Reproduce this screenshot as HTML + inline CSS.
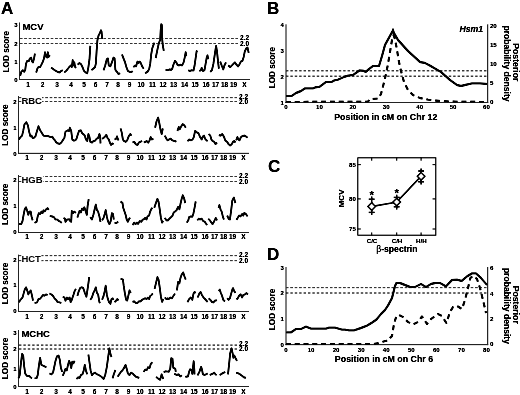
<!DOCTYPE html>
<html><head><meta charset="utf-8"><title>Figure</title>
<style>
html,body{margin:0;padding:0;background:#fff;}
body{width:520px;height:395px;overflow:hidden;}
svg{display:block;font-family:"Liberation Sans",sans-serif;fill:#000;}
</style></head><body>
<svg width="520" height="395" viewBox="0 0 520 395">
<defs><filter id="soft" x="0" y="0" width="520" height="395" filterUnits="userSpaceOnUse"><feGaussianBlur stdDeviation="0.45"/><feComponentTransfer><feFuncA type="linear" slope="1.5" intercept="0"/></feComponentTransfer></filter></defs>
<rect x="0" y="0" width="520" height="395" fill="#fff"/>
<g filter="url(#soft)">
<line x1="19.50" y1="22.50" x2="19.50" y2="80.00" stroke="#222" stroke-width="0.8"/>
<line x1="19.00" y1="79.50" x2="250.00" y2="79.50" stroke="#222" stroke-width="0.85"/>
<text x="17.50" y="81.75" font-size="6.0" font-weight="bold" text-anchor="end">0</text>
<text x="17.50" y="63.75" font-size="6.0" font-weight="bold" text-anchor="end">1</text>
<text x="17.50" y="45.65" font-size="6.0" font-weight="bold" text-anchor="end">2</text>
<text x="17.50" y="27.45" font-size="6.0" font-weight="bold" text-anchor="end">3</text>
<line x1="20.00" y1="38.50" x2="239.70" y2="38.50" stroke="#333" stroke-width="1.0" stroke-dasharray="2.4 2.0"/>
<line x1="20.00" y1="43.50" x2="239.70" y2="43.50" stroke="#333" stroke-width="1.0" stroke-dasharray="2.4 2.0"/>
<text x="244.50" y="39.60" font-size="6.5" font-weight="bold" text-anchor="middle">2.2</text>
<text x="244.50" y="45.70" font-size="6.5" font-weight="bold" text-anchor="middle">2.0</text>
<text transform="translate(22.40 30.30) scale(0.97 1)" font-size="9.8" font-weight="bold">MCV</text>
<text x="8.90" y="51.70" font-size="8.2" font-weight="bold" text-anchor="middle" transform="rotate(-90 8.90 51.70)">LOD score</text>
<text x="28.00" y="87.20" font-size="6.5" font-weight="bold" text-anchor="middle">1</text>
<text x="42.50" y="87.20" font-size="6.5" font-weight="bold" text-anchor="middle">2</text>
<text x="57.00" y="87.20" font-size="6.5" font-weight="bold" text-anchor="middle">3</text>
<text x="71.00" y="87.20" font-size="6.5" font-weight="bold" text-anchor="middle">4</text>
<text x="84.00" y="87.20" font-size="6.5" font-weight="bold" text-anchor="middle">5</text>
<text x="95.50" y="87.20" font-size="6.5" font-weight="bold" text-anchor="middle">6</text>
<text x="107.00" y="87.20" font-size="6.5" font-weight="bold" text-anchor="middle">7</text>
<text x="118.00" y="87.20" font-size="6.5" font-weight="bold" text-anchor="middle">8</text>
<text x="129.50" y="87.20" font-size="6.5" font-weight="bold" text-anchor="middle">9</text>
<text x="141.00" y="87.20" font-size="6.5" font-weight="bold" text-anchor="middle">10</text>
<text x="152.50" y="87.20" font-size="6.5" font-weight="bold" text-anchor="middle">11</text>
<text x="163.00" y="87.20" font-size="6.5" font-weight="bold" text-anchor="middle">12</text>
<text x="173.50" y="87.20" font-size="6.5" font-weight="bold" text-anchor="middle">13</text>
<text x="184.50" y="87.20" font-size="6.5" font-weight="bold" text-anchor="middle">14</text>
<text x="195.00" y="87.20" font-size="6.5" font-weight="bold" text-anchor="middle">15</text>
<text x="206.00" y="87.20" font-size="6.5" font-weight="bold" text-anchor="middle">16</text>
<text x="215.50" y="87.20" font-size="6.5" font-weight="bold" text-anchor="middle">17</text>
<text x="224.50" y="87.20" font-size="6.5" font-weight="bold" text-anchor="middle">18</text>
<text x="233.50" y="87.20" font-size="6.5" font-weight="bold" text-anchor="middle">19</text>
<text x="244.50" y="87.20" font-size="6.5" font-weight="bold" text-anchor="middle">X</text>
<polyline points="20.2,75.7 21.3,71.8 22.8,70.2 24.1,71.8 25.2,70.2 26.0,63.9 27.2,60.8 28.8,61.1 29.9,58.4 31.2,57.6 31.9,61.1 33.0,62.4 34.1,58.4 34.9,53.7" fill="none" stroke="#000" stroke-width="1.65" stroke-linejoin="round" stroke-linecap="butt"/>
<polyline points="36.2,72.5 37.4,68.6 38.5,67.1 40.1,67.1 41.4,64.7 42.9,61.6 44.0,58.4 45.1,52.2 46.1,56.9 47.2,57.6 47.9,52.2 48.7,56.9 49.8,55.3" fill="none" stroke="#000" stroke-width="1.65" stroke-linejoin="round" stroke-linecap="butt"/>
<polyline points="51.1,67.8 52.6,68.6 54.2,69.9 56.1,71.0 58.1,72.1 59.7,72.5 61.0,71.0 62.8,70.2" fill="none" stroke="#000" stroke-width="1.65" stroke-linejoin="round" stroke-linecap="butt"/>
<polyline points="64.4,72.5 66.0,71.0 67.5,69.4 69.1,67.1 70.7,65.5 71.8,67.1 72.7,60.0 73.4,65.5 74.3,62.4 75.1,67.1 76.2,67.8" fill="none" stroke="#000" stroke-width="1.65" stroke-linejoin="round" stroke-linecap="butt"/>
<polyline points="77.7,64.7 79.3,63.1 80.9,63.9 82.5,67.1 84.0,71.0 85.6,72.5 87.2,73.3 88.4,67.1 89.5,59.2 90.3,45.9" fill="none" stroke="#000" stroke-width="1.65" stroke-linejoin="round" stroke-linecap="butt"/>
<polyline points="91.5,70.2 93.4,68.6 95.0,67.1 95.8,63.9 96.6,51.4 97.4,40.4 98.5,35.7 99.7,33.3 101.0,30.2 101.6,31.8 102.1,38.8" fill="none" stroke="#000" stroke-width="1.65" stroke-linejoin="round" stroke-linecap="butt"/>
<polyline points="103.6,70.2 105.2,65.5 106.8,59.2 107.9,58.4 108.8,65.5 110.4,66.3 111.9,62.4 113.5,57.6 114.6,58.4 115.4,70.2" fill="none" stroke="#000" stroke-width="1.65" stroke-linejoin="round" stroke-linecap="butt"/>
<polyline points="115.4,70.2 117.0,71.8 118.5,74.1 120.1,73.3" fill="none" stroke="#000" stroke-width="1.65" stroke-linejoin="round" stroke-linecap="butt"/>
<polyline points="122.0,54.5 123.2,57.6 124.8,61.6 126.4,67.1 127.9,71.0 129.5,71.8 131.9,71.8 132.6,71.0" fill="none" stroke="#000" stroke-width="1.65" stroke-linejoin="round" stroke-linecap="butt"/>
<polyline points="133.4,67.1 135.0,65.5 136.1,66.3 137.4,61.6 138.6,63.1 139.7,61.6 140.8,63.1 142.1,66.3 143.6,68.6" fill="none" stroke="#000" stroke-width="1.65" stroke-linejoin="round" stroke-linecap="butt"/>
<polyline points="145.2,73.3 147.5,71.8 149.1,69.4 150.2,63.9 151.2,54.5 152.3,48.2 153.4,45.1 154.3,42.7" fill="none" stroke="#000" stroke-width="1.65" stroke-linejoin="round" stroke-linecap="butt"/>
<polyline points="155.7,58.0 157.2,50.6 158.7,43.8 160.2,39.4 160.7,30.1 161.3,24.2 161.8,24.8 162.1,38.2 162.8,45.3 163.8,50.9" fill="none" stroke="#000" stroke-width="1.65" stroke-linejoin="round" stroke-linecap="butt"/>
<polyline points="165.6,69.9 167.9,70.2 169.5,69.4 171.1,69.9 172.3,68.6 173.4,64.7 174.7,61.6 175.0,60.8 176.3,62.4" fill="none" stroke="#000" stroke-width="1.65" stroke-linejoin="round" stroke-linecap="butt"/>
<polyline points="176.3,62.4 177.4,64.7 178.9,65.5 180.5,64.7 182.1,65.5 183.6,62.4 184.7,57.6 185.7,52.2 186.3,56.1" fill="none" stroke="#000" stroke-width="1.65" stroke-linejoin="round" stroke-linecap="butt"/>
<polyline points="188.3,70.2 189.9,71.0 191.5,70.2 193.5,70.5 194.6,65.5 195.7,57.6 196.6,51.4 197.3,50.6" fill="none" stroke="#000" stroke-width="1.65" stroke-linejoin="round" stroke-linecap="butt"/>
<polyline points="199.3,71.0 200.9,70.2 201.7,67.8 202.9,71.0 204.5,70.2 205.6,63.9 206.7,57.6 207.5,55.3 208.3,59.2" fill="none" stroke="#000" stroke-width="1.65" stroke-linejoin="round" stroke-linecap="butt"/>
<polyline points="210.3,71.8 211.9,70.2 213.4,63.9 215.0,52.9 216.1,45.9 217.0,51.4 218.1,62.4 218.9,68.6" fill="none" stroke="#000" stroke-width="1.65" stroke-linejoin="round" stroke-linecap="butt"/>
<polyline points="220.2,61.6 221.7,65.5 223.3,69.4 224.4,65.5 226.0,62.4" fill="none" stroke="#000" stroke-width="1.65" stroke-linejoin="round" stroke-linecap="butt"/>
<polyline points="228.3,65.5 230.2,67.1 231.8,65.5 233.4,63.9 234.9,62.4 236.5,64.7 238.1,66.3 239.3,64.7" fill="none" stroke="#000" stroke-width="1.65" stroke-linejoin="round" stroke-linecap="butt"/>
<polyline points="239.3,64.7 240.9,61.6 242.5,60.8 243.7,56.9 244.8,51.4 246.4,48.2 247.5,47.5 248.7,52.9" fill="none" stroke="#000" stroke-width="1.65" stroke-linejoin="round" stroke-linecap="butt"/>
<line x1="18.50" y1="96.00" x2="18.50" y2="153.90" stroke="#222" stroke-width="0.8"/>
<line x1="18.00" y1="153.40" x2="249.00" y2="153.40" stroke="#222" stroke-width="0.85"/>
<text x="16.50" y="155.65" font-size="6.0" font-weight="bold" text-anchor="end">0</text>
<text x="16.50" y="129.55" font-size="6.0" font-weight="bold" text-anchor="end">1</text>
<text x="16.50" y="103.65" font-size="6.0" font-weight="bold" text-anchor="end">2</text>
<line x1="19.00" y1="97.60" x2="238.70" y2="97.60" stroke="#333" stroke-width="1.0" stroke-dasharray="2.4 2.0"/>
<line x1="19.00" y1="101.50" x2="238.70" y2="101.50" stroke="#333" stroke-width="1.0" stroke-dasharray="2.4 2.0"/>
<text x="243.50" y="99.00" font-size="6.5" font-weight="bold" text-anchor="middle">2.2</text>
<text x="243.50" y="103.90" font-size="6.5" font-weight="bold" text-anchor="middle">2.0</text>
<rect x="21.5" y="96.6" width="20.5" height="5.9" fill="#fff"/>
<text transform="translate(21.40 103.50) scale(0.97 1)" font-size="9.8" font-weight="bold">RBC</text>
<text x="7.90" y="125.10" font-size="8.2" font-weight="bold" text-anchor="middle" transform="rotate(-90 7.90 125.10)">LOD score</text>
<text x="27.00" y="160.20" font-size="6.5" font-weight="bold" text-anchor="middle">1</text>
<text x="41.50" y="160.20" font-size="6.5" font-weight="bold" text-anchor="middle">2</text>
<text x="56.00" y="160.20" font-size="6.5" font-weight="bold" text-anchor="middle">3</text>
<text x="70.00" y="160.20" font-size="6.5" font-weight="bold" text-anchor="middle">4</text>
<text x="83.00" y="160.20" font-size="6.5" font-weight="bold" text-anchor="middle">5</text>
<text x="94.50" y="160.20" font-size="6.5" font-weight="bold" text-anchor="middle">6</text>
<text x="106.00" y="160.20" font-size="6.5" font-weight="bold" text-anchor="middle">7</text>
<text x="117.00" y="160.20" font-size="6.5" font-weight="bold" text-anchor="middle">8</text>
<text x="128.50" y="160.20" font-size="6.5" font-weight="bold" text-anchor="middle">9</text>
<text x="140.00" y="160.20" font-size="6.5" font-weight="bold" text-anchor="middle">10</text>
<text x="151.50" y="160.20" font-size="6.5" font-weight="bold" text-anchor="middle">11</text>
<text x="162.00" y="160.20" font-size="6.5" font-weight="bold" text-anchor="middle">12</text>
<text x="172.50" y="160.20" font-size="6.5" font-weight="bold" text-anchor="middle">13</text>
<text x="183.50" y="160.20" font-size="6.5" font-weight="bold" text-anchor="middle">14</text>
<text x="194.00" y="160.20" font-size="6.5" font-weight="bold" text-anchor="middle">15</text>
<text x="205.00" y="160.20" font-size="6.5" font-weight="bold" text-anchor="middle">16</text>
<text x="214.50" y="160.20" font-size="6.5" font-weight="bold" text-anchor="middle">17</text>
<text x="223.50" y="160.20" font-size="6.5" font-weight="bold" text-anchor="middle">18</text>
<text x="232.50" y="160.20" font-size="6.5" font-weight="bold" text-anchor="middle">19</text>
<text x="243.50" y="160.20" font-size="6.5" font-weight="bold" text-anchor="middle">X</text>
<polyline points="18.9,139.5 20.5,137.1 22.1,135.6 23.2,130.9 24.4,124.6 26.3,122.2 27.9,125.4 29.1,131.6 30.4,136.4 31.5,135.6 32.6,137.9 33.8,137.9 35.4,136.4 37.0,130.9 38.5,126.2 40.1,130.1 42.0,133.2 43.5,135.6 45.6,136.0 47.9,136.0 50.3,137.1 52.3,136.7 53.4,138.7 55.0,140.3 56.1,142.3 57.7,143.4 59.7,143.9 61.3,142.6 62.8,140.3 64.4,137.9 65.5,131.6 67.5,130.4 69.1,130.9 69.9,127.7 71.2,130.9 72.3,139.5 73.8,140.7 75.4,140.3 76.5,138.7 77.7,134.8 79.0,130.9 80.9,130.4 82.1,133.2 83.7,134.5 84.8,135.6 85.9,139.5 87.2,141.1 88.4,134.0 89.5,137.1 90.3,141.8 91.9,142.6 93.4,141.1 95.0,140.7 96.6,138.7 98.1,137.9 99.4,134.0 100.2,136.4 100.5,143.4" fill="none" stroke="#000" stroke-width="1.65" stroke-linejoin="round" stroke-linecap="butt"/>
<polyline points="102.1,138.7 103.6,137.9 105.2,136.4 106.3,134.8 107.5,137.9 108.8,139.5 109.9,142.6 111.0,145.0 112.3,143.4 113.5,144.2" fill="none" stroke="#000" stroke-width="1.65" stroke-linejoin="round" stroke-linecap="butt"/>
<polyline points="114.6,139.5 116.2,138.7 117.0,136.4 117.7,138.7 118.5,140.3" fill="none" stroke="#000" stroke-width="1.65" stroke-linejoin="round" stroke-linecap="butt"/>
<polyline points="120.6,128.5 121.7,132.4 122.9,139.5 124.0,141.1 125.6,141.8 127.2,140.3 128.7,136.4 130.3,134.0 131.4,135.6" fill="none" stroke="#000" stroke-width="1.65" stroke-linejoin="round" stroke-linecap="butt"/>
<polyline points="132.6,142.6 134.2,141.8 135.8,144.2 137.4,145.0 138.9,142.6 140.5,141.8 142.1,141.1" fill="none" stroke="#000" stroke-width="1.65" stroke-linejoin="round" stroke-linecap="butt"/>
<polyline points="143.9,142.6 145.5,141.8 146.8,141.1 148.3,142.6 149.6,140.3 150.7,137.1 151.8,139.5 153.4,138.7" fill="none" stroke="#000" stroke-width="1.65" stroke-linejoin="round" stroke-linecap="butt"/>
<polyline points="155.1,127.7 156.5,121.5 158.1,117.5 159.3,123.0 160.6,130.1 161.7,134.0 162.8,128.5" fill="none" stroke="#000" stroke-width="1.65" stroke-linejoin="round" stroke-linecap="butt"/>
<polyline points="164.8,135.6 166.4,138.7 167.5,140.3 169.0,139.5 170.6,138.7 172.2,140.3 174.2,141.1 175.0,141.1 176.3,141.8" fill="none" stroke="#000" stroke-width="1.65" stroke-linejoin="round" stroke-linecap="butt"/>
<polyline points="177.4,130.9 178.9,126.9 179.7,129.3 181.3,126.2 182.8,124.1 184.4,125.4 185.7,127.7" fill="none" stroke="#000" stroke-width="1.65" stroke-linejoin="round" stroke-linecap="butt"/>
<polyline points="187.5,141.1 189.4,139.5 191.0,140.3 192.6,139.5 193.8,137.1 195.1,130.9 196.2,131.6 197.0,132.4 198.5,133.2 200.1,137.1 201.7,139.5 202.9,136.4 204.0,135.6 205.1,138.7 206.4,140.3 207.6,141.1" fill="none" stroke="#000" stroke-width="1.65" stroke-linejoin="round" stroke-linecap="butt"/>
<polyline points="208.7,134.0 210.3,135.6 211.4,139.5 212.6,141.1 214.2,141.8 215.5,144.2 217.0,142.6" fill="none" stroke="#000" stroke-width="1.65" stroke-linejoin="round" stroke-linecap="butt"/>
<polyline points="218.9,135.1 220.8,135.6 222.1,134.0 223.3,135.6 224.4,137.9 225.2,140.3 227.1,141.8 228.6,144.2 230.2,145.5 231.8,144.2 233.0,141.8 234.3,141.1 235.4,142.6" fill="none" stroke="#000" stroke-width="1.65" stroke-linejoin="round" stroke-linecap="butt"/>
<polyline points="236.2,140.3 237.4,137.1 238.5,139.5 239.6,140.3 240.9,137.1 242.5,136.0 244.3,135.6 245.9,136.4 247.5,137.6" fill="none" stroke="#000" stroke-width="1.65" stroke-linejoin="round" stroke-linecap="butt"/>
<line x1="18.50" y1="175.00" x2="18.50" y2="233.00" stroke="#222" stroke-width="0.8"/>
<line x1="18.00" y1="232.50" x2="249.00" y2="232.50" stroke="#222" stroke-width="0.85"/>
<text x="16.50" y="234.15" font-size="6.0" font-weight="bold" text-anchor="end">0</text>
<text x="16.50" y="208.05" font-size="6.0" font-weight="bold" text-anchor="end">1</text>
<text x="16.50" y="182.35" font-size="6.0" font-weight="bold" text-anchor="end">2</text>
<line x1="19.00" y1="176.50" x2="238.70" y2="176.50" stroke="#333" stroke-width="1.0" stroke-dasharray="2.4 2.0"/>
<line x1="19.00" y1="181.50" x2="238.70" y2="181.50" stroke="#333" stroke-width="1.0" stroke-dasharray="2.4 2.0"/>
<text x="243.50" y="178.10" font-size="6.5" font-weight="bold" text-anchor="middle">2.2</text>
<text x="243.50" y="183.80" font-size="6.5" font-weight="bold" text-anchor="middle">2.0</text>
<rect x="21.5" y="175.5" width="21.5" height="7.0" fill="#fff"/>
<text transform="translate(21.40 182.90) scale(0.97 1)" font-size="9.8" font-weight="bold">HGB</text>
<text x="7.90" y="204.30" font-size="8.2" font-weight="bold" text-anchor="middle" transform="rotate(-90 7.90 204.30)">LOD score</text>
<text x="27.00" y="239.30" font-size="6.5" font-weight="bold" text-anchor="middle">1</text>
<text x="41.50" y="239.30" font-size="6.5" font-weight="bold" text-anchor="middle">2</text>
<text x="56.00" y="239.30" font-size="6.5" font-weight="bold" text-anchor="middle">3</text>
<text x="70.00" y="239.30" font-size="6.5" font-weight="bold" text-anchor="middle">4</text>
<text x="83.00" y="239.30" font-size="6.5" font-weight="bold" text-anchor="middle">5</text>
<text x="94.50" y="239.30" font-size="6.5" font-weight="bold" text-anchor="middle">6</text>
<text x="106.00" y="239.30" font-size="6.5" font-weight="bold" text-anchor="middle">7</text>
<text x="117.00" y="239.30" font-size="6.5" font-weight="bold" text-anchor="middle">8</text>
<text x="128.50" y="239.30" font-size="6.5" font-weight="bold" text-anchor="middle">9</text>
<text x="140.00" y="239.30" font-size="6.5" font-weight="bold" text-anchor="middle">10</text>
<text x="151.50" y="239.30" font-size="6.5" font-weight="bold" text-anchor="middle">11</text>
<text x="162.00" y="239.30" font-size="6.5" font-weight="bold" text-anchor="middle">12</text>
<text x="172.50" y="239.30" font-size="6.5" font-weight="bold" text-anchor="middle">13</text>
<text x="183.50" y="239.30" font-size="6.5" font-weight="bold" text-anchor="middle">14</text>
<text x="194.00" y="239.30" font-size="6.5" font-weight="bold" text-anchor="middle">15</text>
<text x="205.00" y="239.30" font-size="6.5" font-weight="bold" text-anchor="middle">16</text>
<text x="214.50" y="239.30" font-size="6.5" font-weight="bold" text-anchor="middle">17</text>
<text x="223.50" y="239.30" font-size="6.5" font-weight="bold" text-anchor="middle">18</text>
<text x="232.50" y="239.30" font-size="6.5" font-weight="bold" text-anchor="middle">19</text>
<text x="243.50" y="239.30" font-size="6.5" font-weight="bold" text-anchor="middle">X</text>
<polyline points="18.9,223.9 21.3,223.9 22.5,221.1 23.6,214.8 24.7,209.3 26.0,207.3 27.2,210.9 28.3,214.8 29.4,211.6 30.7,211.6 31.5,216.4 32.6,220.3" fill="none" stroke="#000" stroke-width="1.65" stroke-linejoin="round" stroke-linecap="butt"/>
<polyline points="34.6,222.9 36.6,221.8 37.7,216.4 38.8,213.2 40.1,214.0 41.4,211.6 42.5,213.2 43.5,210.4 44.8,211.3 46.1,209.3 47.6,208.2 48.7,209.8" fill="none" stroke="#000" stroke-width="1.65" stroke-linejoin="round" stroke-linecap="butt"/>
<polyline points="49.8,216.0 51.9,216.4 53.9,217.1 55.5,219.5 57.4,219.5 58.9,221.1 60.5,221.8 61.7,222.9" fill="none" stroke="#000" stroke-width="1.65" stroke-linejoin="round" stroke-linecap="butt"/>
<polyline points="63.6,217.9 64.9,218.7 65.5,221.8 67.1,219.5 69.1,219.2 70.2,221.1 71.2,221.8 71.8,210.9 73.0,213.2 74.3,211.6 75.9,212.9" fill="none" stroke="#000" stroke-width="1.65" stroke-linejoin="round" stroke-linecap="butt"/>
<polyline points="77.4,217.6 78.5,214.0 79.6,210.9 80.9,212.4 82.1,208.5 83.4,209.8 84.3,207.3 85.6,210.9 86.8,214.8 87.6,206.2 88.7,199.1" fill="none" stroke="#000" stroke-width="1.65" stroke-linejoin="round" stroke-linecap="butt"/>
<polyline points="90.3,217.1 91.9,219.5 93.4,214.8 95.0,207.7 95.8,204.6 96.9,210.1 98.1,211.6 99.4,216.4 100.5,221.8" fill="none" stroke="#000" stroke-width="1.65" stroke-linejoin="round" stroke-linecap="butt"/>
<polyline points="102.1,220.3 103.6,217.9 104.7,214.0 105.7,210.1 106.8,216.4 107.9,221.1 109.4,224.2 110.7,221.1 111.9,213.2 113.0,214.0 113.8,219.5" fill="none" stroke="#000" stroke-width="1.65" stroke-linejoin="round" stroke-linecap="butt"/>
<polyline points="114.6,222.9 116.6,222.9 118.2,221.8" fill="none" stroke="#000" stroke-width="1.65" stroke-linejoin="round" stroke-linecap="butt"/>
<polyline points="120.6,201.5 122.5,203.0 123.2,207.7 124.5,211.6 125.6,214.8 126.7,219.5 127.9,221.8 129.2,218.7 130.3,217.9" fill="none" stroke="#000" stroke-width="1.65" stroke-linejoin="round" stroke-linecap="butt"/>
<polyline points="132.6,225.0 134.2,222.6 135.5,224.2 137.0,222.6 138.1,223.9 139.7,221.1 141.3,221.8 142.8,219.5 143.6,219.5 145.2,217.9 146.5,219.5 147.5,216.4 149.1,215.6 149.9,212.4 151.2,209.3 152.3,207.7" fill="none" stroke="#000" stroke-width="1.65" stroke-linejoin="round" stroke-linecap="butt"/>
<polyline points="154.3,207.7 155.9,203.0 157.4,198.8 158.5,201.5 159.6,208.5 160.9,217.9 162.1,222.6 163.2,221.1" fill="none" stroke="#000" stroke-width="1.65" stroke-linejoin="round" stroke-linecap="butt"/>
<polyline points="164.8,217.9 166.4,220.3 167.9,220.3 169.5,218.7 171.1,217.1 172.6,215.6 173.7,212.4 175.0,211.6 176.6,210.1 178.1,206.9 179.4,209.3 180.5,203.8 181.6,199.1 182.8,195.2 184.1,198.3 185.2,203.0" fill="none" stroke="#000" stroke-width="1.65" stroke-linejoin="round" stroke-linecap="butt"/>
<polyline points="186.8,222.6 188.3,220.3 189.1,217.1 190.7,216.4 192.3,216.7 193.5,213.2 194.6,207.7 195.7,201.5" fill="none" stroke="#000" stroke-width="1.65" stroke-linejoin="round" stroke-linecap="butt"/>
<polyline points="197.3,220.3 198.8,218.7 200.1,219.5 201.7,218.7 203.2,221.1 204.8,221.8 206.1,223.9 207.2,225.0" fill="none" stroke="#000" stroke-width="1.65" stroke-linejoin="round" stroke-linecap="butt"/>
<polyline points="208.3,218.7 209.8,220.3 211.4,222.6 212.6,224.2 213.9,221.8 215.0,219.5 215.8,217.9 217.0,220.3" fill="none" stroke="#000" stroke-width="1.65" stroke-linejoin="round" stroke-linecap="butt"/>
<polyline points="218.6,207.7 219.4,205.1 220.5,209.3 221.7,211.6 222.8,216.4 223.9,219.5" fill="none" stroke="#000" stroke-width="1.65" stroke-linejoin="round" stroke-linecap="butt"/>
<polyline points="227.2,215.6 228.6,218.7 229.9,219.5 231.2,210.1 232.3,200.7 233.8,197.5 235.4,203.0" fill="none" stroke="#000" stroke-width="1.65" stroke-linejoin="round" stroke-linecap="butt"/>
<polyline points="236.5,219.8 237.7,217.9 239.0,215.6 240.6,216.4 242.1,214.0 243.2,215.6 244.3,212.9 245.9,214.0 247.5,216.4" fill="none" stroke="#000" stroke-width="1.65" stroke-linejoin="round" stroke-linecap="butt"/>
<line x1="18.50" y1="254.70" x2="18.50" y2="312.00" stroke="#222" stroke-width="0.8"/>
<line x1="18.00" y1="311.50" x2="249.00" y2="311.50" stroke="#222" stroke-width="0.85"/>
<text x="16.50" y="313.15" font-size="6.0" font-weight="bold" text-anchor="end">0</text>
<text x="16.50" y="286.65" font-size="6.0" font-weight="bold" text-anchor="end">1</text>
<text x="16.50" y="262.15" font-size="6.0" font-weight="bold" text-anchor="end">2</text>
<line x1="19.00" y1="255.60" x2="238.70" y2="255.60" stroke="#333" stroke-width="1.0" stroke-dasharray="2.4 2.0"/>
<line x1="19.00" y1="260.60" x2="238.70" y2="260.60" stroke="#333" stroke-width="1.0" stroke-dasharray="2.4 2.0"/>
<text x="243.50" y="257.30" font-size="6.5" font-weight="bold" text-anchor="middle">2.2</text>
<text x="243.50" y="263.10" font-size="6.5" font-weight="bold" text-anchor="middle">2.0</text>
<rect x="21.5" y="254.6" width="19.9" height="7.0" fill="#fff"/>
<text transform="translate(21.40 261.80) scale(0.97 1)" font-size="9.8" font-weight="bold">HCT</text>
<text x="7.90" y="283.50" font-size="8.2" font-weight="bold" text-anchor="middle" transform="rotate(-90 7.90 283.50)">LOD score</text>
<text x="27.00" y="319.10" font-size="6.5" font-weight="bold" text-anchor="middle">1</text>
<text x="41.50" y="319.10" font-size="6.5" font-weight="bold" text-anchor="middle">2</text>
<text x="56.00" y="319.10" font-size="6.5" font-weight="bold" text-anchor="middle">3</text>
<text x="70.00" y="319.10" font-size="6.5" font-weight="bold" text-anchor="middle">4</text>
<text x="83.00" y="319.10" font-size="6.5" font-weight="bold" text-anchor="middle">5</text>
<text x="94.50" y="319.10" font-size="6.5" font-weight="bold" text-anchor="middle">6</text>
<text x="106.00" y="319.10" font-size="6.5" font-weight="bold" text-anchor="middle">7</text>
<text x="117.00" y="319.10" font-size="6.5" font-weight="bold" text-anchor="middle">8</text>
<text x="128.50" y="319.10" font-size="6.5" font-weight="bold" text-anchor="middle">9</text>
<text x="140.00" y="319.10" font-size="6.5" font-weight="bold" text-anchor="middle">10</text>
<text x="151.50" y="319.10" font-size="6.5" font-weight="bold" text-anchor="middle">11</text>
<text x="162.00" y="319.10" font-size="6.5" font-weight="bold" text-anchor="middle">12</text>
<text x="172.50" y="319.10" font-size="6.5" font-weight="bold" text-anchor="middle">13</text>
<text x="183.50" y="319.10" font-size="6.5" font-weight="bold" text-anchor="middle">14</text>
<text x="194.00" y="319.10" font-size="6.5" font-weight="bold" text-anchor="middle">15</text>
<text x="205.00" y="319.10" font-size="6.5" font-weight="bold" text-anchor="middle">16</text>
<text x="214.50" y="319.10" font-size="6.5" font-weight="bold" text-anchor="middle">17</text>
<text x="223.50" y="319.10" font-size="6.5" font-weight="bold" text-anchor="middle">18</text>
<text x="232.50" y="319.10" font-size="6.5" font-weight="bold" text-anchor="middle">19</text>
<text x="243.50" y="319.10" font-size="6.5" font-weight="bold" text-anchor="middle">X</text>
<polyline points="18.9,302.2 20.5,299.8 22.5,297.5 23.6,293.6 24.7,289.6 26.0,287.3 27.2,290.4 28.3,294.4 29.4,292.0 30.7,290.4 31.9,295.1 33.0,300.6" fill="none" stroke="#000" stroke-width="1.65" stroke-linejoin="round" stroke-linecap="butt"/>
<polyline points="34.6,303.0 37.0,302.5 38.5,299.1 40.1,298.7 41.7,296.7 42.9,295.1 44.5,295.6 46.1,294.4 47.6,295.1" fill="none" stroke="#000" stroke-width="1.65" stroke-linejoin="round" stroke-linecap="butt"/>
<polyline points="49.5,293.6 51.4,294.4 53.0,295.9 54.5,298.3 56.1,299.8 57.7,302.2 59.2,302.2 61.3,303.0" fill="none" stroke="#000" stroke-width="1.65" stroke-linejoin="round" stroke-linecap="butt"/>
<polyline points="62.8,296.7 64.4,297.5 65.5,300.6 66.8,297.5 68.3,299.1 69.6,297.5 70.7,302.2 71.8,299.8 73.4,295.1 74.6,291.2 75.9,288.9" fill="none" stroke="#000" stroke-width="1.65" stroke-linejoin="round" stroke-linecap="butt"/>
<polyline points="77.4,295.9 78.5,292.0 80.1,288.1 81.7,287.3 83.2,288.1 84.8,292.8 86.4,296.7 87.5,289.6 88.4,283.4 89.2,277.1" fill="none" stroke="#000" stroke-width="1.65" stroke-linejoin="round" stroke-linecap="butt"/>
<polyline points="90.3,299.8 91.9,297.5 93.4,292.8 95.0,289.6 95.8,287.3 96.9,292.8 98.1,294.4 99.4,302.2 100.2,303.0" fill="none" stroke="#000" stroke-width="1.65" stroke-linejoin="round" stroke-linecap="butt"/>
<polyline points="102.1,299.8 103.6,295.9 104.7,291.2 105.7,285.7 106.8,294.4 107.9,299.1 109.1,302.2 110.4,303.8 111.5,299.1 112.6,298.3 113.5,299.8" fill="none" stroke="#000" stroke-width="1.65" stroke-linejoin="round" stroke-linecap="butt"/>
<polyline points="114.6,302.2 116.2,300.6 117.3,299.1 118.5,300.3" fill="none" stroke="#000" stroke-width="1.65" stroke-linejoin="round" stroke-linecap="butt"/>
<polyline points="120.6,278.7 122.9,279.5 123.7,285.7 124.8,292.8 126.1,299.8 127.2,300.6 128.3,295.9 129.5,290.4 130.8,292.8" fill="none" stroke="#000" stroke-width="1.65" stroke-linejoin="round" stroke-linecap="butt"/>
<polyline points="132.6,301.9 134.2,301.4 135.8,303.0 137.4,303.0 138.9,301.4 140.5,301.4 142.1,299.8 143.6,299.1 145.2,298.3 146.5,299.1 148.0,297.5 149.1,299.1 150.2,295.9 151.5,295.1 152.7,293.6" fill="none" stroke="#000" stroke-width="1.65" stroke-linejoin="round" stroke-linecap="butt"/>
<polyline points="154.6,288.9 155.9,283.4 157.4,277.1 158.5,279.5 159.6,286.5 160.9,296.7 162.1,301.9 163.2,299.1" fill="none" stroke="#000" stroke-width="1.65" stroke-linejoin="round" stroke-linecap="butt"/>
<polyline points="164.8,297.5 166.4,299.1 167.5,298.3 168.7,299.1 170.3,297.5 171.9,298.3 173.4,295.9 175.0,293.6" fill="none" stroke="#000" stroke-width="1.65" stroke-linejoin="round" stroke-linecap="butt"/>
<polyline points="176.9,290.4 178.1,281.8 179.4,283.4 180.5,277.9 181.6,274.7 183.2,272.4 184.4,276.3 185.7,279.5" fill="none" stroke="#000" stroke-width="1.65" stroke-linejoin="round" stroke-linecap="butt"/>
<polyline points="187.5,302.2 189.1,299.1 190.7,297.5 192.3,299.8 193.5,293.6 194.6,292.0 195.7,292.8" fill="none" stroke="#000" stroke-width="1.65" stroke-linejoin="round" stroke-linecap="butt"/>
<polyline points="197.7,297.5 199.3,293.6 200.6,292.0 202.0,295.1 203.5,297.5 205.1,299.1 206.4,300.6 207.6,301.9" fill="none" stroke="#000" stroke-width="1.65" stroke-linejoin="round" stroke-linecap="butt"/>
<polyline points="208.7,298.3 210.3,299.8 211.9,301.9 213.4,302.5 215.0,300.6 217.0,300.3" fill="none" stroke="#000" stroke-width="1.65" stroke-linejoin="round" stroke-linecap="butt"/>
<polyline points="218.9,291.2 219.7,289.6 220.8,292.8 222.1,295.9 223.3,299.8 224.9,301.4" fill="none" stroke="#000" stroke-width="1.65" stroke-linejoin="round" stroke-linecap="butt"/>
<polyline points="227.2,298.3 228.6,299.8 229.9,298.3 231.2,293.6 232.3,289.6 233.0,288.1 234.3,291.2 235.4,292.8" fill="none" stroke="#000" stroke-width="1.65" stroke-linejoin="round" stroke-linecap="butt"/>
<polyline points="236.5,299.4 237.7,298.3 239.0,295.9 240.6,294.4 242.1,297.5 243.2,295.1 244.8,294.4 246.4,293.1 247.9,294.4" fill="none" stroke="#000" stroke-width="1.65" stroke-linejoin="round" stroke-linecap="butt"/>
<line x1="18.50" y1="330.00" x2="18.50" y2="387.00" stroke="#222" stroke-width="0.8"/>
<line x1="18.00" y1="386.50" x2="249.00" y2="386.50" stroke="#222" stroke-width="0.85"/>
<text x="16.50" y="388.55" font-size="6.0" font-weight="bold" text-anchor="end">0</text>
<text x="16.50" y="370.55" font-size="6.0" font-weight="bold" text-anchor="end">1</text>
<text x="16.50" y="351.35" font-size="6.0" font-weight="bold" text-anchor="end">2</text>
<text x="16.50" y="335.15" font-size="6.0" font-weight="bold" text-anchor="end">3</text>
<line x1="19.00" y1="345.10" x2="238.70" y2="345.10" stroke="#333" stroke-width="1.0" stroke-dasharray="2.4 2.0"/>
<line x1="19.00" y1="349.00" x2="238.70" y2="349.00" stroke="#333" stroke-width="1.0" stroke-dasharray="2.4 2.0"/>
<text x="243.50" y="346.40" font-size="6.5" font-weight="bold" text-anchor="middle">2.2</text>
<text x="243.50" y="351.20" font-size="6.5" font-weight="bold" text-anchor="middle">2.0</text>
<text transform="translate(21.40 337.10) scale(0.97 1)" font-size="9.8" font-weight="bold">MCHC</text>
<text x="7.90" y="358.50" font-size="8.2" font-weight="bold" text-anchor="middle" transform="rotate(-90 7.90 358.50)">LOD score</text>
<text x="27.00" y="393.90" font-size="6.5" font-weight="bold" text-anchor="middle">1</text>
<text x="41.50" y="393.90" font-size="6.5" font-weight="bold" text-anchor="middle">2</text>
<text x="56.00" y="393.90" font-size="6.5" font-weight="bold" text-anchor="middle">3</text>
<text x="70.00" y="393.90" font-size="6.5" font-weight="bold" text-anchor="middle">4</text>
<text x="83.00" y="393.90" font-size="6.5" font-weight="bold" text-anchor="middle">5</text>
<text x="94.50" y="393.90" font-size="6.5" font-weight="bold" text-anchor="middle">6</text>
<text x="106.00" y="393.90" font-size="6.5" font-weight="bold" text-anchor="middle">7</text>
<text x="117.00" y="393.90" font-size="6.5" font-weight="bold" text-anchor="middle">8</text>
<text x="128.50" y="393.90" font-size="6.5" font-weight="bold" text-anchor="middle">9</text>
<text x="140.00" y="393.90" font-size="6.5" font-weight="bold" text-anchor="middle">10</text>
<text x="151.50" y="393.90" font-size="6.5" font-weight="bold" text-anchor="middle">11</text>
<text x="162.00" y="393.90" font-size="6.5" font-weight="bold" text-anchor="middle">12</text>
<text x="172.50" y="393.90" font-size="6.5" font-weight="bold" text-anchor="middle">13</text>
<text x="183.50" y="393.90" font-size="6.5" font-weight="bold" text-anchor="middle">14</text>
<text x="194.00" y="393.90" font-size="6.5" font-weight="bold" text-anchor="middle">15</text>
<text x="205.00" y="393.90" font-size="6.5" font-weight="bold" text-anchor="middle">16</text>
<text x="214.50" y="393.90" font-size="6.5" font-weight="bold" text-anchor="middle">17</text>
<text x="223.50" y="393.90" font-size="6.5" font-weight="bold" text-anchor="middle">18</text>
<text x="232.50" y="393.90" font-size="6.5" font-weight="bold" text-anchor="middle">19</text>
<text x="243.50" y="393.90" font-size="6.5" font-weight="bold" text-anchor="middle">X</text>
<polyline points="18.5,378.2 19.7,375.1 21.0,362.5 22.1,353.9 23.2,355.5 24.1,365.6 25.2,373.5 26.8,375.8 29.1,375.8 30.7,377.4 31.9,378.2" fill="none" stroke="#000" stroke-width="1.65" stroke-linejoin="round" stroke-linecap="butt"/>
<polyline points="34.6,378.2 36.6,378.2 37.7,375.1 38.8,366.4 40.1,357.8 41.4,364.9 42.9,365.6 44.8,366.4 46.4,367.2" fill="none" stroke="#000" stroke-width="1.65" stroke-linejoin="round" stroke-linecap="butt"/>
<polyline points="49.5,373.5 51.4,374.3 53.0,372.7 54.2,367.2 55.5,360.9 57.0,356.2 58.6,355.5 59.7,359.4 60.8,367.2 62.1,371.9" fill="none" stroke="#000" stroke-width="1.65" stroke-linejoin="round" stroke-linecap="butt"/>
<polyline points="62.8,375.8 64.4,371.9 65.5,368.8 66.8,370.4 68.0,364.9 69.1,360.9 70.2,363.3 71.2,368.0 72.3,361.7 73.4,363.3 74.6,360.9" fill="none" stroke="#000" stroke-width="1.65" stroke-linejoin="round" stroke-linecap="butt"/>
<polyline points="76.5,379.0 78.1,377.4 79.6,377.9 80.9,375.1 82.5,374.3 83.7,370.4 84.8,364.9 85.9,370.4 87.2,374.3" fill="none" stroke="#000" stroke-width="1.65" stroke-linejoin="round" stroke-linecap="butt"/>
<polyline points="88.4,354.7 89.5,362.5 90.6,370.4 91.9,375.1 93.4,373.5 95.0,372.7 96.9,374.3 98.9,375.1 101.3,376.6 103.6,379.0 105.2,375.1 106.8,367.2 108.3,356.2 109.4,348.4 110.4,353.9 111.5,357.0" fill="none" stroke="#000" stroke-width="1.65" stroke-linejoin="round" stroke-linecap="butt"/>
<polyline points="112.6,378.2 113.8,374.3 115.4,370.0" fill="none" stroke="#000" stroke-width="1.65" stroke-linejoin="round" stroke-linecap="butt"/>
<polyline points="117.7,376.6 119.3,374.3 120.9,371.9 122.5,370.4 124.0,368.0 125.6,364.9 126.7,368.8 127.9,373.5 129.5,375.1 131.1,372.7 132.6,373.5 134.2,375.1 136.1,376.9 137.7,377.4 139.2,377.9" fill="none" stroke="#000" stroke-width="1.65" stroke-linejoin="round" stroke-linecap="butt"/>
<polyline points="143.6,371.9 145.2,369.6 146.8,370.0 148.0,367.2 149.6,368.0 150.7,364.1 152.3,362.2" fill="none" stroke="#000" stroke-width="1.65" stroke-linejoin="round" stroke-linecap="butt"/>
<polyline points="156.1,376.9 158.2,378.6 160.1,379.9 161.6,374.4 163.2,378.9" fill="none" stroke="#000" stroke-width="1.65" stroke-linejoin="round" stroke-linecap="butt"/>
<polyline points="163.7,372.3 165.7,371.3 168.7,371.8 170.2,368.8 170.9,362.0 171.3,358.2 172.5,358.7 173.3,367.8 175.3,368.8 175.8,371.8" fill="none" stroke="#000" stroke-width="1.65" stroke-linejoin="round" stroke-linecap="butt"/>
<polyline points="174.3,373.8 176.8,374.9 178.8,374.4 180.4,376.4 181.9,375.4" fill="none" stroke="#000" stroke-width="1.65" stroke-linejoin="round" stroke-linecap="butt"/>
<polyline points="185.4,376.9 188.0,376.4 189.0,372.3 190.0,369.3 191.5,369.8 192.3,373.8 193.0,367.3 193.7,361.2 194.3,369.3 194.5,374.4" fill="none" stroke="#000" stroke-width="1.65" stroke-linejoin="round" stroke-linecap="butt"/>
<polyline points="197.6,375.4 199.6,371.3 201.1,366.8 202.0,369.5 202.9,374.3 204.5,375.1 206.1,374.3 207.6,373.5" fill="none" stroke="#000" stroke-width="1.65" stroke-linejoin="round" stroke-linecap="butt"/>
<polyline points="209.8,375.1 211.4,374.3 213.0,373.5 214.2,372.7 215.5,374.3 216.6,375.1" fill="none" stroke="#000" stroke-width="1.65" stroke-linejoin="round" stroke-linecap="butt"/>
<polyline points="219.7,375.1 221.7,373.8 223.6,372.7 225.2,371.9" fill="none" stroke="#000" stroke-width="1.65" stroke-linejoin="round" stroke-linecap="butt"/>
<polyline points="228.0,374.3 229.1,364.1 230.2,353.1 231.5,348.4 232.6,353.1 233.4,357.8 234.3,355.5 235.4,357.8 237.0,360.9" fill="none" stroke="#000" stroke-width="1.65" stroke-linejoin="round" stroke-linecap="butt"/>
<polyline points="236.2,372.7 238.1,373.2 240.1,374.3 242.1,375.8 244.0,377.4 245.9,377.9" fill="none" stroke="#000" stroke-width="1.65" stroke-linejoin="round" stroke-linecap="butt"/>
<text x="0.90" y="14.00" font-size="17" font-weight="bold" text-anchor="start">A</text>
<text x="267.00" y="14.30" font-size="17" font-weight="bold" text-anchor="start">B</text>
<text x="268.00" y="172.00" font-size="17" font-weight="bold" text-anchor="start">C</text>
<text x="267.00" y="260.30" font-size="17" font-weight="bold" text-anchor="start">D</text>
<line x1="286.00" y1="24.30" x2="286.00" y2="103.00" stroke="#222" stroke-width="0.8"/>
<line x1="487.70" y1="24.30" x2="487.70" y2="103.00" stroke="#222" stroke-width="0.8"/>
<line x1="285.50" y1="102.50" x2="488.20" y2="102.50" stroke="#222" stroke-width="0.85"/>
<text x="283.90" y="27.45" font-size="6.0" font-weight="bold" text-anchor="end">4</text>
<text x="283.90" y="53.35" font-size="6.0" font-weight="bold" text-anchor="end">3</text>
<text x="283.90" y="78.65" font-size="6.0" font-weight="bold" text-anchor="end">2</text>
<text x="283.90" y="104.75" font-size="6.0" font-weight="bold" text-anchor="end">1</text>
<text x="489.90" y="104.10" font-size="6.2" font-weight="bold" text-anchor="start">0</text>
<text x="489.90" y="85.00" font-size="6.2" font-weight="bold" text-anchor="start">5</text>
<text x="489.90" y="65.90" font-size="6.2" font-weight="bold" text-anchor="start">10</text>
<text x="489.90" y="46.80" font-size="6.2" font-weight="bold" text-anchor="start">15</text>
<text x="489.90" y="27.70" font-size="6.2" font-weight="bold" text-anchor="start">20</text>
<text x="286.00" y="109.40" font-size="6.1" font-weight="bold" text-anchor="middle">0</text>
<text x="319.42" y="109.40" font-size="6.1" font-weight="bold" text-anchor="middle">10</text>
<text x="352.83" y="109.40" font-size="6.1" font-weight="bold" text-anchor="middle">20</text>
<text x="386.25" y="109.40" font-size="6.1" font-weight="bold" text-anchor="middle">30</text>
<text x="419.67" y="109.40" font-size="6.1" font-weight="bold" text-anchor="middle">40</text>
<text x="453.08" y="109.40" font-size="6.1" font-weight="bold" text-anchor="middle">50</text>
<text x="486.50" y="109.40" font-size="6.1" font-weight="bold" text-anchor="middle">60</text>
<text x="385.80" y="120.00" font-size="8.85" font-weight="bold" text-anchor="middle">Position in cM on Chr 12</text>
<line x1="286.00" y1="70.80" x2="487.70" y2="70.80" stroke="#333" stroke-width="1.0" stroke-dasharray="2.4 2.0"/>
<line x1="286.00" y1="76.20" x2="487.70" y2="76.20" stroke="#333" stroke-width="1.0" stroke-dasharray="2.4 2.0"/>
<text x="275.20" y="67.60" font-size="8.2" font-weight="bold" text-anchor="middle" transform="rotate(-90 275.20 67.60)">LOD score</text>
<text x="513.40" y="62.30" font-size="8.7" font-weight="bold" text-anchor="middle" transform="rotate(90 513.40 62.30)">Posterior</text>
<text x="503.80" y="63.50" font-size="8.55" font-weight="bold" text-anchor="middle" transform="rotate(90 503.80 63.50)">probability density</text>
<polyline points="286.4,96.0 291.6,96.0 296.0,93.0 301.0,91.0 305.0,88.4 313.0,88.4 316.0,87.2 319.6,86.8 326.0,82.0 331.6,82.0 334.4,80.4 338.0,79.6 344.0,77.0 348.0,75.6 353.0,75.0 359.6,70.4 363.0,70.6 365.6,72.0 369.0,69.0 373.0,66.0 379.0,66.0 382.0,56.0 385.0,45.0 388.0,39.5 391.0,34.0 393.0,30.4 394.0,33.0 398.0,40.0 408.0,51.0 420.0,62.0 425.0,63.0 430.0,65.6 441.0,72.0 450.0,80.0 457.0,85.0 461.0,86.0 465.0,85.0 472.0,83.4 480.0,83.4 487.0,84.0" fill="none" stroke="#000" stroke-width="1.9" stroke-linejoin="round" stroke-linecap="butt"/>
<polyline points="286.0,101.9 368.0,101.6 370.0,99.0 378.0,98.6 381.0,94.0 383.6,84.0 386.0,74.0 388.0,64.0 390.0,52.0 392.0,40.0 393.5,35.0 395.0,39.0 397.0,50.0 399.0,62.0 401.0,71.0 404.0,82.0 408.0,90.0 413.0,95.0 420.0,98.0 428.0,99.6 440.0,101.0 456.0,101.7 487.0,101.9" fill="none" stroke="#000" stroke-width="1.9" stroke-linejoin="round" stroke-linecap="butt" stroke-dasharray="4.8 4.0"/>
<line x1="393.00" y1="28.60" x2="393.00" y2="33.50" stroke="#000" stroke-width="1.2"/>
<text x="483.20" y="31.80" font-size="8.7" font-weight="bold" text-anchor="end" font-style="italic">Hsm1</text>
<line x1="286.00" y1="267.00" x2="286.00" y2="345.10" stroke="#222" stroke-width="0.8"/>
<line x1="487.70" y1="267.00" x2="487.70" y2="345.10" stroke="#222" stroke-width="0.8"/>
<line x1="285.50" y1="344.60" x2="488.20" y2="344.60" stroke="#222" stroke-width="0.85"/>
<text x="283.90" y="270.25" font-size="6.0" font-weight="bold" text-anchor="end">3</text>
<text x="283.90" y="295.35" font-size="6.0" font-weight="bold" text-anchor="end">2</text>
<text x="283.90" y="320.95" font-size="6.0" font-weight="bold" text-anchor="end">1</text>
<text x="283.90" y="346.95" font-size="6.0" font-weight="bold" text-anchor="end">0</text>
<text x="489.90" y="346.20" font-size="6.2" font-weight="bold" text-anchor="start">0</text>
<text x="489.90" y="320.93" font-size="6.2" font-weight="bold" text-anchor="start">2</text>
<text x="489.90" y="295.67" font-size="6.2" font-weight="bold" text-anchor="start">4</text>
<text x="489.90" y="270.40" font-size="6.2" font-weight="bold" text-anchor="start">6</text>
<text x="286.00" y="351.50" font-size="6.1" font-weight="bold" text-anchor="middle">0</text>
<text x="311.06" y="351.50" font-size="6.1" font-weight="bold" text-anchor="middle">10</text>
<text x="336.12" y="351.50" font-size="6.1" font-weight="bold" text-anchor="middle">20</text>
<text x="361.19" y="351.50" font-size="6.1" font-weight="bold" text-anchor="middle">30</text>
<text x="386.25" y="351.50" font-size="6.1" font-weight="bold" text-anchor="middle">40</text>
<text x="411.31" y="351.50" font-size="6.1" font-weight="bold" text-anchor="middle">50</text>
<text x="436.38" y="351.50" font-size="6.1" font-weight="bold" text-anchor="middle">60</text>
<text x="461.44" y="351.50" font-size="6.1" font-weight="bold" text-anchor="middle">70</text>
<text x="486.50" y="351.50" font-size="6.1" font-weight="bold" text-anchor="middle">80</text>
<text x="384.00" y="361.80" font-size="8.85" font-weight="bold" text-anchor="middle">Position in cM on Chr 6</text>
<line x1="286.00" y1="287.60" x2="487.70" y2="287.60" stroke="#333" stroke-width="1.0" stroke-dasharray="2.4 2.0"/>
<line x1="286.00" y1="293.00" x2="487.70" y2="293.00" stroke="#333" stroke-width="1.0" stroke-dasharray="2.4 2.0"/>
<text x="275.20" y="309.50" font-size="8.2" font-weight="bold" text-anchor="middle" transform="rotate(-90 275.20 309.50)">LOD score</text>
<text x="513.40" y="304.70" font-size="8.7" font-weight="bold" text-anchor="middle" transform="rotate(90 513.40 304.70)">Posterior</text>
<text x="503.80" y="305.90" font-size="8.55" font-weight="bold" text-anchor="middle" transform="rotate(90 503.80 305.90)">probability density</text>
<polyline points="286.4,332.4 291.0,332.4 296.0,329.0 301.0,329.0 306.0,326.6 311.0,328.6 326.0,328.6 329.0,327.6 335.0,327.6 342.0,329.6 345.0,329.6 349.0,330.4 354.0,330.4 361.0,328.0 367.0,325.6 372.0,322.6 376.4,319.6 381.0,314.0 385.0,310.0 388.0,305.5 392.0,298.0 395.0,286.0 396.4,283.0 400.0,283.0 405.0,285.0 410.0,287.0 415.0,287.0 421.0,284.0 426.0,287.0 431.0,284.0 435.0,283.0 440.0,283.0 446.0,286.4 452.0,280.0 457.0,279.6 461.6,281.0 467.0,276.4 472.0,273.4 476.0,273.4 481.0,278.0 487.0,285.0" fill="none" stroke="#000" stroke-width="1.9" stroke-linejoin="round" stroke-linecap="butt"/>
<polyline points="286.0,344.0 374.0,344.0 378.0,343.3 384.0,341.4 388.0,340.5 390.0,338.0 392.0,336.0 394.0,324.0 396.4,316.0 399.0,315.0 403.0,317.0 408.0,322.0 413.0,324.4 418.0,322.0 422.0,316.4 427.0,324.0 431.0,319.0 438.0,314.0 442.0,316.0 446.4,323.0 450.0,312.0 453.0,307.0 457.0,306.0 462.0,309.0 465.0,300.0 468.0,288.0 470.4,278.0 473.0,276.0 477.0,279.0 480.0,288.0 483.0,300.0 486.0,313.0" fill="none" stroke="#000" stroke-width="1.9" stroke-linejoin="round" stroke-linecap="butt" stroke-dasharray="4.8 4.0"/>
<rect x="357.8" y="157.8" width="78.0" height="77.4" fill="none" stroke="#111" stroke-width="0.9"/>
<text x="355.80" y="166.90" font-size="6.1" font-weight="bold" text-anchor="end">85</text>
<line x1="357.80" y1="164.60" x2="360.80" y2="164.60" stroke="#111" stroke-width="0.9"/>
<line x1="432.60" y1="164.60" x2="435.80" y2="164.60" stroke="#111" stroke-width="0.9"/>
<text x="355.80" y="201.20" font-size="6.1" font-weight="bold" text-anchor="end">80</text>
<line x1="357.80" y1="198.90" x2="360.80" y2="198.90" stroke="#111" stroke-width="0.9"/>
<line x1="432.60" y1="198.90" x2="435.80" y2="198.90" stroke="#111" stroke-width="0.9"/>
<text x="355.80" y="231.30" font-size="6.1" font-weight="bold" text-anchor="end">75</text>
<line x1="357.80" y1="229.00" x2="360.80" y2="229.00" stroke="#111" stroke-width="0.9"/>
<line x1="432.60" y1="229.00" x2="435.80" y2="229.00" stroke="#111" stroke-width="0.9"/>
<line x1="371.70" y1="157.80" x2="371.70" y2="160.70" stroke="#111" stroke-width="0.9"/>
<line x1="371.70" y1="232.50" x2="371.70" y2="235.20" stroke="#111" stroke-width="0.9"/>
<line x1="396.70" y1="157.80" x2="396.70" y2="160.70" stroke="#111" stroke-width="0.9"/>
<line x1="396.70" y1="232.50" x2="396.70" y2="235.20" stroke="#111" stroke-width="0.9"/>
<line x1="421.10" y1="157.80" x2="421.10" y2="160.70" stroke="#111" stroke-width="0.9"/>
<line x1="421.10" y1="232.50" x2="421.10" y2="235.20" stroke="#111" stroke-width="0.9"/>
<polyline points="371.7,206.5 396.7,202.1 421.1,176.3" fill="none" stroke="#000" stroke-width="1.4" stroke-linejoin="round" stroke-linecap="butt"/>
<line x1="371.70" y1="196.60" x2="371.70" y2="215.00" stroke="#000" stroke-width="1.3"/>
<line x1="368.80" y1="199.20" x2="374.60" y2="199.20" stroke="#000" stroke-width="1.3"/>
<line x1="368.80" y1="212.40" x2="374.60" y2="212.40" stroke="#000" stroke-width="1.3"/>
<polygon points="368.0,206.5 371.7,202.8 375.4,206.5 371.7,210.2" fill="#fff" stroke="#000" stroke-width="1.35"/>
<line x1="396.70" y1="194.80" x2="396.70" y2="209.40" stroke="#000" stroke-width="1.3"/>
<line x1="393.80" y1="197.40" x2="399.60" y2="197.40" stroke="#000" stroke-width="1.3"/>
<line x1="393.80" y1="206.80" x2="399.60" y2="206.80" stroke="#000" stroke-width="1.3"/>
<polygon points="393.0,202.1 396.7,198.4 400.4,202.1 396.7,205.8" fill="#fff" stroke="#000" stroke-width="1.35"/>
<line x1="421.10" y1="168.40" x2="421.10" y2="184.40" stroke="#000" stroke-width="1.3"/>
<line x1="418.20" y1="171.00" x2="424.00" y2="171.00" stroke="#000" stroke-width="1.3"/>
<line x1="418.20" y1="181.80" x2="424.00" y2="181.80" stroke="#000" stroke-width="1.3"/>
<polygon points="417.4,176.3 421.1,172.6 424.8,176.3 421.1,180.0" fill="#fff" stroke="#000" stroke-width="1.35"/>
<text x="371.70" y="198.60" font-size="11.5" font-weight="bold" text-anchor="middle">*</text>
<text x="396.70" y="196.50" font-size="11.5" font-weight="bold" text-anchor="middle">*</text>
<text x="372.00" y="242.60" font-size="6.2" font-weight="bold" text-anchor="middle">C/C</text>
<text x="397.00" y="242.60" font-size="6.2" font-weight="bold" text-anchor="middle">C/H</text>
<text x="421.30" y="242.60" font-size="6.2" font-weight="bold" text-anchor="middle">H/H</text>
<text x="396.9" y="251.6" font-size="8.6" text-anchor="middle" font-weight="bold"><tspan font-weight="normal">β</tspan>-spectrin</text>
<text x="344.00" y="198.40" font-size="8.0" font-weight="bold" text-anchor="middle" transform="rotate(-90 344.00 198.40)">MCV</text>
</g>
</svg>
</body></html>
